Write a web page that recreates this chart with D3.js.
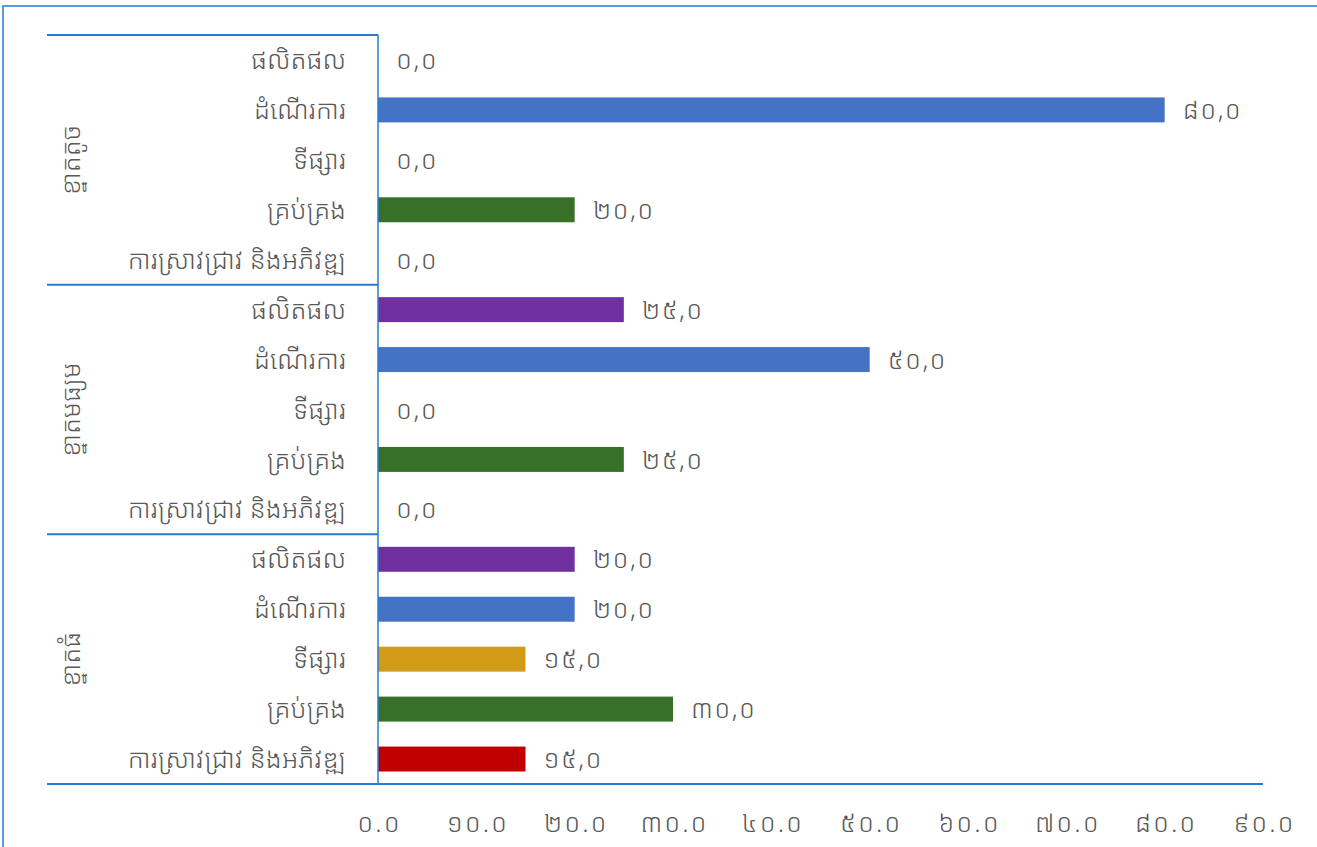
<!DOCTYPE html>
<html>
<head>
<meta charset="utf-8">
<script src="https://cdn.jsdelivr.net/npm/d3@7"></script>
<style>
  html, body { margin: 0; padding: 0; background: #fff; }
  svg text { font-family: "Noto Sans Khmer", "Khmer OS Siemreap", "Khmer OS", "Noto Sans", "DejaVu Sans", sans-serif; fill: #595959; font-weight: 300; }
</style>
</head>
<body>
<svg id="chart" width="1317" height="847"></svg>
<script>
// Enterprise size groups (top to bottom) and innovation types within each group
const groups = ["ខ្នាតតូច", "ខ្នាតមធ្យម", "ខ្នាតធំ"];
const categories = ["ផលិតផល", "ដំណើរការ", "ទីផ្សារ", "គ្រប់គ្រង", "ការស្រាវជ្រាវ និងអភិវឌ្ឍ"];
const categoryColors = ["#7030A0", "#4472C4", "#D09C17", "#38702A", "#C00000"];
// Percentages per group, in category order
const smallValues = [0, 80, 0, 20, 0];
const mediumValues = [25, 50, 0, 25, 0];
const largeValues = [20, 20, 15, 30, 15];
const groupValues = [smallValues, mediumValues, largeValues];
const xTicks = [0, 10, 20, 30, 40, 50, 60, 70, 80, 90];

const khmerDigits = "០១២៣៤៥៦៧៨៩";
const toKhmer = s => String(s).replace(/[0-9]/g, d => khmerDigits[+d]);

const rows = [];
groups.forEach((g, gi) => {
  categories.forEach((c, ci) => {
    rows.push({ key: gi + "-" + ci, group: g, gi, category: c, ci, value: groupValues[gi][ci] });
  });
});

const svg = d3.select("#chart");
const lineColor = "#2B7BD0";

const plotLeft = 378, plotRight = 1263, plotTop = 35, plotBottom = 784, axisLeft = 47;

const x = d3.scaleLinear().domain([0, 90]).range([plotLeft, plotRight]);
const y = d3.scaleBand().domain(rows.map(r => r.key)).range([plotTop, plotBottom]).paddingInner(0.5).paddingOuter(0.25);

// Chart frame
svg.append("rect")
  .attr("x", 3).attr("y", 6).attr("width", 1400).attr("height", 900)
  .attr("fill", "none").attr("stroke", lineColor).attr("stroke-width", 1.5);

// Bars
svg.append("g").selectAll("rect").data(rows).join("rect")
  .attr("x", x(0))
  .attr("y", d => y(d.key))
  .attr("width", d => x(d.value) - x(0))
  .attr("height", y.bandwidth())
  .attr("fill", d => categoryColors[d.ci]);

// Value labels
svg.append("g").selectAll("text").data(rows).join("text")
  .attr("x", d => x(d.value) + 18)
  .attr("y", d => y(d.key) + y.bandwidth() / 2)
  .attr("dy", "0.35em")
  .attr("font-size", 26)
  .attr("letter-spacing", 1.5)
  .text(d => toKhmer(d3.format(".1f")(d.value)).replace(".", ","));

// Category labels
svg.append("g").selectAll("text").data(rows).join("text")
  .attr("x", 346)
  .attr("y", d => y(d.key) + y.bandwidth() / 2)
  .attr("dy", "0.35em")
  .attr("text-anchor", "end")
  .attr("font-size", 26)
  .text(d => d.category);

// Group labels, rotated
const groupBand = (plotBottom - plotTop) / groups.length;
svg.append("g").selectAll("text").data(groups).join("text")
  .attr("transform", (g, i) => `translate(80,${plotTop + groupBand * (i + 0.5)}) rotate(-90)`)
  .attr("text-anchor", "middle")
  .attr("font-size", 26)
  .text(d => d);

// Group separators
const sepYs = d3.range(groups.length).map(i => plotTop + groupBand * i);
svg.append("g").selectAll("line").data(sepYs).join("line")
  .attr("x1", axisLeft).attr("x2", plotLeft)
  .attr("y1", d => d).attr("y2", d => d)
  .attr("stroke", lineColor).attr("stroke-width", 2);

svg.append("line")
  .attr("x1", plotLeft).attr("x2", plotLeft).attr("y1", plotTop).attr("y2", plotBottom)
  .attr("stroke", lineColor).attr("stroke-width", 1.5);

// Value axis
const xAxis = d3.axisBottom(x).tickValues(xTicks).tickSize(0).tickPadding(30)
  .tickFormat(d => toKhmer(d3.format(".1f")(d)));
const axisG = svg.append("g").attr("transform", `translate(0,${plotBottom})`).call(xAxis);
axisG.select(".domain").remove();
axisG.attr("font-family", null).attr("font-size", 26);
axisG.selectAll("text").attr("fill", "#595959").attr("letter-spacing", 2).attr("dx", 1);
svg.append("line")
  .attr("x1", axisLeft).attr("x2", plotRight).attr("y1", plotBottom).attr("y2", plotBottom)
  .attr("stroke", lineColor).attr("stroke-width", 2);
</script>
</body>
</html>
